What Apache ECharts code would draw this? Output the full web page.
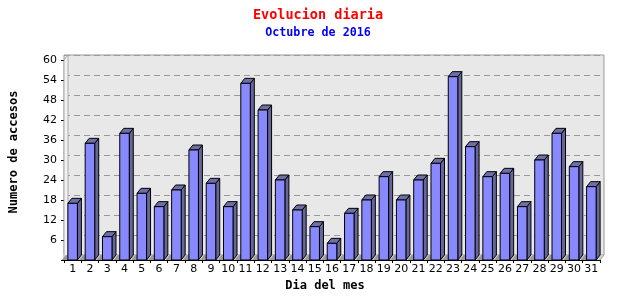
<!DOCTYPE html>
<html><head><meta charset="utf-8">
<script src="https://cdn.jsdelivr.net/npm/echarts@6/dist/echarts.min.js"></script>
<style>html,body{margin:0;padding:0;background:#fff}#c{width:640px;height:300px}</style>
</head><body><div id="c"></div>
<script>
const days = ['1','2','3','4','5','6','7','8','9','10','11','12','13','14','15','16','17','18','19','20','21','22','23','24','25','26','27','28','29','30','31'];
const accesos = [17,35,7,38,20,16,21,33,23,16,53,45,24,15,10,5,14,18,25,18,24,29,55,34,25,26,16,30,38,28,22];
const yTicks = [0,6,12,18,24,30,36,42,48,54,60];

const DX = 4, DY = 5;
const chart = echarts.init(document.getElementById('c'));
const mono = 'DejaVu Sans Mono';

function barItem(params, api) {
  const idx = api.value(0);
  const top = api.coord([idx, api.value(1)]);
  const base = api.coord([idx, 0]);
  const bw = api.size([1, 0])[0] * 0.55;
  const x0 = top[0] - bw / 2, x1 = top[0] + bw / 2;
  const yt = top[1], yb = base[1];
  const st = {stroke: '#000', lineWidth: 1};
  return {type: 'group', children: [
    {type: 'polygon', shape: {points: [[x0 - 6, yb], [x0 - 6 + DX, yb - DY], [x0 + DX, yb - DY], [x0, yb]]}, style: {fill: '#999999'}},
    {type: 'polygon', shape: {points: [[x1, yt], [x1 + DX, yt - DY], [x1 + DX, yb - DY], [x1, yb]]}, style: Object.assign({fill: '#666699'}, st)},
    {type: 'polygon', shape: {points: [[x0, yt], [x0 + DX, yt - DY], [x1 + DX, yt - DY], [x1, yt]]}, style: Object.assign({fill: '#6f6fa8'}, st)},
    {type: 'rect', shape: {x: x0, y: yt, width: bw, height: yb - yt}, style: Object.assign({fill: '#8888ff'}, st)}
  ]};
}

function floorItem(params, api) {
  const cs = params.coordSys;
  const L = cs.x, R = cs.x + cs.width, T = cs.y, B = cs.y + cs.height;
  return {type: 'group', children: [
    {type: 'polygon', shape: {points: [[L, B], [L + DX, B - DY], [R + DX, B - DY], [R, B]]}, style: {fill: '#d4d4d4'}},
    {type: 'polygon', shape: {points: [[L, B], [L, T], [L + DX, T - DY], [L + DX, B - DY]]}, style: {fill: '#f2f2f2', stroke: '#aaaaaa', lineWidth: 1}},
    {type: 'line', shape: {x1: R, y1: B, x2: R + DX, y2: B - DY}, style: {stroke: '#999999', lineWidth: 1}}
  ]};
}

chart.setOption({
  animation: false,
  title: [
    {text: 'Evolucion diaria', left: 313, top: 3, textAlign: 'center',
     textStyle: {color: '#ff0000', fontFamily: mono, fontWeight: 'bold', fontSize: 13.5}},
    {text: 'Octubre de 2016', left: 313, top: 22, textAlign: 'center',
     textStyle: {color: '#0000ff', fontFamily: mono, fontWeight: 'bold', fontSize: 11.7}}
  ],
  grid: [
    {left: 60, right: 40, top: 60, bottom: 40},
    {left: 60 + DX, right: 40 - DX, top: 60 - DY, bottom: 40 + DY, show: true, backgroundColor: '#e8e8e8', borderColor: '#999999', borderWidth: 1, z: -1}
  ],
  xAxis: [
    {type: 'category', gridIndex: 0, data: days, boundaryGap: true,
     name: 'Dia del mes', nameLocation: 'middle', nameGap: 16,
     nameTextStyle: {fontFamily: mono, fontWeight: 'bold', fontSize: 12, color: '#000', padding: [0, 14, 0, 0]},
     axisLine: {lineStyle: {color: '#000', width: 1}},
     axisTick: {show: true, length: 3, interval: 0, lineStyle: {color: '#000'}},
     axisLabel: {color: '#000', fontFamily: 'DejaVu Sans', fontSize: 11, margin: 4, interval: 0}},
    {type: 'category', gridIndex: 1, data: days, show: false}
  ],
  yAxis: [
    {type: 'value', gridIndex: 0, min: 0, max: 60, interval: 6,
     name: 'Numero de accesos', nameLocation: 'middle', nameRotate: 90, nameGap: 44,
     nameTextStyle: {fontFamily: mono, fontWeight: 'bold', fontSize: 12, color: '#000', padding: [0, 0, 0, 16]},
     axisLine: {show: true, lineStyle: {color: '#000', width: 1}},
     axisTick: {show: true, length: 3, lineStyle: {color: '#000'}},
     splitLine: {show: false},
     axisLabel: {color: '#000', fontFamily: 'DejaVu Sans', fontSize: 11, margin: 7,
       formatter: v => (yTicks.indexOf(v) > 0 ? String(v) : '')}},
    {type: 'value', gridIndex: 1, min: 0, max: 60, interval: 6,
     axisLine: {show: false}, axisTick: {show: false}, axisLabel: {show: false},
     splitLine: {show: true, lineStyle: {color: '#999999', type: [6, 4], width: 1}}}
  ],
  series: [
    {type: 'custom', xAxisIndex: 0, yAxisIndex: 0, z: 1, data: [[0, 0]], renderItem: floorItem, silent: true},
    {type: 'custom', xAxisIndex: 0, yAxisIndex: 0, z: 3,
     data: accesos.map((v, i) => [i, v]), encode: {x: 0, y: 1}, renderItem: barItem}
  ]
});
</script></body></html>
